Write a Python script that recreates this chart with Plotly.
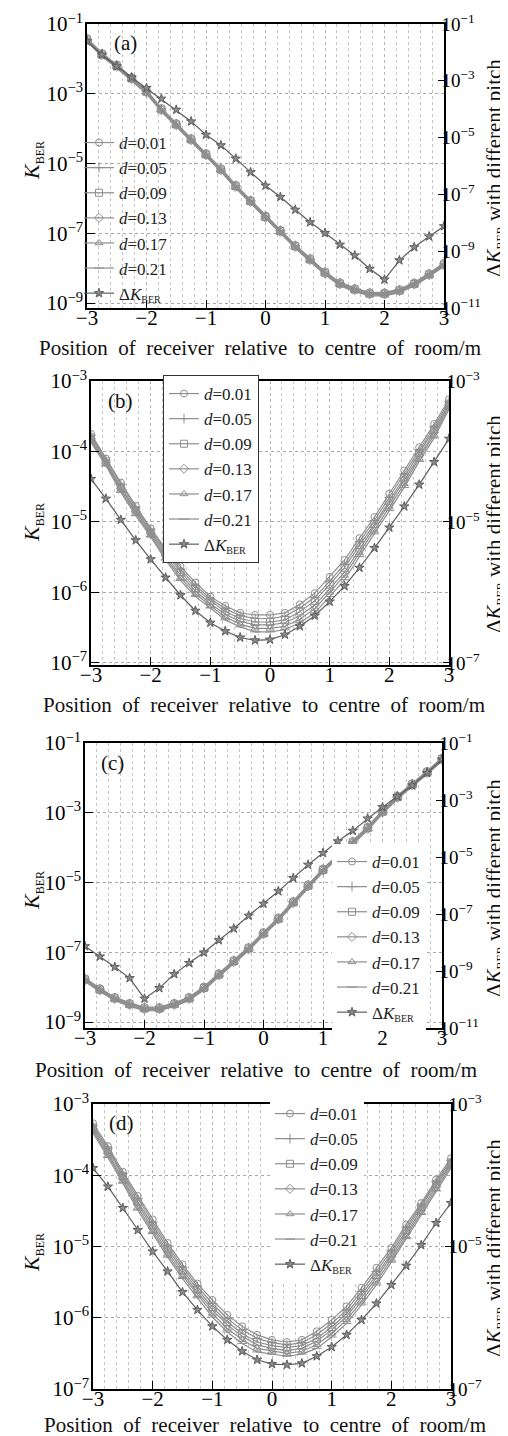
import numpy as np
import plotly.graph_objects as go

W, H = 508, 1436
SERIF = "Liberation Serif, Times New Roman, serif"

# ---------------- data (log10 of K_BER) ----------------
x_pos = [-3, -2.75, -2.5, -2.25, -2, -1.75, -1.5, -1.25, -1, -0.75, -0.5, -0.25, 0,
         0.25, 0.5, 0.75, 1, 1.25, 1.5, 1.75, 2, 2.25, 2.5, 2.75, 3]

d_labels = ["<i>d</i>=0.01", "<i>d</i>=0.05", "<i>d</i>=0.09",
            "<i>d</i>=0.13", "<i>d</i>=0.17", "<i>d</i>=0.21"]
dk_label = "Δ<i>K</i><sub><span style='font-size:10px'>BER</span></sub>"
x_ticks = [-3, -2, -1, 0, 1, 2, 3]
x_tick_text = ["−3", "−2", "−1", "0", "1", "2", "3"]

# panel (a)
a_d001 = [-1.40, -1.83, -2.16, -2.52, -2.90, -3.41, -3.84, -4.27, -4.70, -5.13, -5.61, -6.04, -6.49,
          -6.90, -7.33, -7.71, -8.09, -8.40, -8.57, -8.69, -8.69, -8.60, -8.41, -8.14, -7.85]
a_d005 = [-1.42, -1.85, -2.18, -2.54, -2.92, -3.43, -3.86, -4.29, -4.72, -5.15, -5.63, -6.06, -6.51,
          -6.92, -7.35, -7.73, -8.11, -8.42, -8.59, -8.71, -8.71, -8.62, -8.43, -8.16, -7.87]
a_d009 = [-1.44, -1.87, -2.20, -2.56, -2.94, -3.45, -3.88, -4.31, -4.74, -5.17, -5.65, -6.08, -6.53,
          -6.94, -7.37, -7.75, -8.13, -8.44, -8.61, -8.73, -8.73, -8.64, -8.45, -8.18, -7.89]
a_d013 = [-1.46, -1.89, -2.22, -2.58, -2.96, -3.47, -3.90, -4.33, -4.76, -5.19, -5.67, -6.10, -6.55,
          -6.96, -7.39, -7.77, -8.15, -8.46, -8.63, -8.75, -8.75, -8.66, -8.47, -8.20, -7.91]
a_d017 = [-1.48, -1.91, -2.24, -2.60, -2.98, -3.49, -3.92, -4.35, -4.78, -5.21, -5.69, -6.12, -6.57,
          -6.98, -7.41, -7.79, -8.17, -8.48, -8.65, -8.77, -8.77, -8.68, -8.49, -8.22, -7.93]
a_d021 = [-1.50, -1.93, -2.26, -2.62, -3.00, -3.51, -3.94, -4.37, -4.80, -5.23, -5.71, -6.14, -6.59,
          -7.00, -7.43, -7.81, -8.19, -8.50, -8.67, -8.79, -8.79, -8.70, -8.51, -8.24, -7.95]
a_dk = [-1.61, -2.08, -2.49, -2.88, -3.25, -3.63, -4.02, -4.43, -4.90, -5.27, -5.74, -6.22, -6.69,
        -7.09, -7.54, -7.98, -8.36, -8.77, -9.15, -9.62, -10.00, -9.32, -8.86, -8.48, -8.12]

# panel (b)
b_d001 = [-3.75, -4.10, -4.44, -4.77, -5.09, -5.38, -5.63, -5.86, -6.06, -6.19, -6.29, -6.32, -6.32,
          -6.29, -6.17, -6.01, -5.78, -5.54, -5.23, -4.93, -4.60, -4.27, -3.94, -3.61, -3.26]
b_d005 = [-3.77, -4.12, -4.47, -4.80, -5.11, -5.41, -5.67, -5.90, -6.09, -6.23, -6.33, -6.37, -6.37,
          -6.34, -6.22, -6.07, -5.84, -5.60, -5.28, -4.98, -4.65, -4.32, -3.98, -3.65, -3.29]
b_d009 = [-3.80, -4.14, -4.50, -4.83, -5.14, -5.44, -5.71, -5.94, -6.12, -6.27, -6.37, -6.42, -6.42,
          -6.39, -6.27, -6.12, -5.89, -5.65, -5.33, -5.03, -4.70, -4.37, -4.02, -3.69, -3.32]
b_d013 = [-3.82, -4.16, -4.52, -4.85, -5.16, -5.48, -5.75, -5.98, -6.16, -6.31, -6.41, -6.46, -6.46,
          -6.43, -6.33, -6.18, -5.95, -5.71, -5.39, -5.07, -4.74, -4.41, -4.06, -3.73, -3.34]
b_d017 = [-3.85, -4.18, -4.55, -4.88, -5.19, -5.51, -5.79, -6.02, -6.19, -6.35, -6.45, -6.51, -6.51,
          -6.48, -6.38, -6.23, -6.00, -5.76, -5.44, -5.12, -4.79, -4.46, -4.10, -3.77, -3.37]
b_d021 = [-3.87, -4.20, -4.58, -4.91, -5.21, -5.54, -5.83, -6.06, -6.22, -6.39, -6.49, -6.56, -6.56,
          -6.53, -6.43, -6.29, -6.06, -5.82, -5.49, -5.17, -4.84, -4.51, -4.14, -3.81, -3.40]
b_dk = [-4.39, -4.67, -4.97, -5.26, -5.53, -5.79, -6.04, -6.26, -6.43, -6.55, -6.64, -6.68, -6.67,
        -6.60, -6.48, -6.33, -6.13, -5.91, -5.65, -5.37, -5.08, -4.78, -4.47, -4.15, -3.82]

# panel (c)
c_d001 = [-7.74, -8.03, -8.28, -8.45, -8.57, -8.57, -8.45, -8.28, -7.98, -7.60, -7.22, -6.85, -6.42,
          -6.00, -5.53, -5.05, -4.60, -4.20, -3.81, -3.40, -2.93, -2.51, -2.15, -1.80, -1.42]
c_d005 = [-7.76, -8.05, -8.30, -8.47, -8.59, -8.59, -8.47, -8.30, -8.00, -7.62, -7.24, -6.87, -6.44,
          -6.02, -5.55, -5.07, -4.62, -4.22, -3.83, -3.42, -2.95, -2.53, -2.17, -1.82, -1.44]
c_d009 = [-7.78, -8.07, -8.32, -8.49, -8.61, -8.61, -8.49, -8.32, -8.02, -7.64, -7.26, -6.89, -6.46,
          -6.04, -5.57, -5.09, -4.64, -4.24, -3.85, -3.44, -2.97, -2.55, -2.19, -1.84, -1.46]
c_d013 = [-7.80, -8.09, -8.34, -8.51, -8.63, -8.63, -8.51, -8.34, -8.04, -7.66, -7.28, -6.91, -6.48,
          -6.06, -5.59, -5.11, -4.66, -4.26, -3.87, -3.46, -2.99, -2.57, -2.21, -1.86, -1.48]
c_d017 = [-7.82, -8.11, -8.36, -8.53, -8.65, -8.65, -8.53, -8.36, -8.06, -7.68, -7.30, -6.93, -6.50,
          -6.08, -5.61, -5.13, -4.68, -4.28, -3.89, -3.48, -3.01, -2.59, -2.23, -1.88, -1.50]
c_d021 = [-7.84, -8.13, -8.38, -8.55, -8.67, -8.67, -8.55, -8.38, -8.08, -7.70, -7.32, -6.95, -6.52,
          -6.10, -5.63, -5.15, -4.70, -4.30, -3.91, -3.50, -3.03, -2.61, -2.25, -1.90, -1.52]
c_dk = [-8.13, -8.49, -8.86, -9.25, -9.97, -9.60, -9.11, -8.72, -8.35, -7.92, -7.51, -7.06, -6.64,
        -6.20, -5.74, -5.27, -4.86, -4.45, -4.08, -3.65, -3.25, -2.87, -2.49, -2.05, -1.58]

# panel (d)
d_d001 = [-3.27, -3.59, -3.95, -4.29, -4.62, -4.95, -5.25, -5.52, -5.75, -5.96, -6.12, -6.24, -6.31,
          -6.34, -6.31, -6.19, -6.03, -5.84, -5.58, -5.30, -5.02, -4.69, -4.39, -4.06, -3.76]
d_d005 = [-3.30, -3.62, -3.98, -4.33, -4.66, -4.99, -5.29, -5.56, -5.80, -6.01, -6.17, -6.29, -6.35,
          -6.38, -6.35, -6.24, -6.08, -5.89, -5.63, -5.35, -5.06, -4.73, -4.42, -4.09, -3.79]
d_d009 = [-3.33, -3.65, -4.01, -4.37, -4.70, -5.03, -5.33, -5.60, -5.85, -6.06, -6.22, -6.34, -6.39,
          -6.42, -6.39, -6.29, -6.13, -5.94, -5.68, -5.40, -5.10, -4.77, -4.45, -4.12, -3.82]
d_d013 = [-3.35, -3.69, -4.05, -4.41, -4.74, -5.07, -5.37, -5.64, -5.89, -6.10, -6.26, -6.38, -6.43,
          -6.46, -6.43, -6.33, -6.17, -5.98, -5.72, -5.44, -5.14, -4.81, -4.49, -4.16, -3.84]
d_d017 = [-3.38, -3.72, -4.08, -4.45, -4.78, -5.11, -5.41, -5.68, -5.94, -6.15, -6.31, -6.43, -6.47,
          -6.50, -6.47, -6.38, -6.22, -6.03, -5.77, -5.49, -5.18, -4.85, -4.52, -4.19, -3.87]
d_d021 = [-3.41, -3.75, -4.11, -4.49, -4.82, -5.15, -5.45, -5.72, -5.99, -6.20, -6.36, -6.48, -6.51,
          -6.54, -6.51, -6.43, -6.27, -6.08, -5.82, -5.54, -5.22, -4.89, -4.55, -4.22, -3.90]
d_dk = [-3.90, -4.16, -4.46, -4.77, -5.07, -5.35, -5.64, -5.89, -6.12, -6.31, -6.47, -6.59, -6.65,
        -6.66, -6.64, -6.54, -6.41, -6.24, -6.03, -5.80, -5.54, -5.27, -4.98, -4.67, -4.39]

# left / right decade ticks (exponents)
a_left_exp = [-1, -3, -5, -7, -9]
a_right_exp = [-1, -3, -5, -7, -9, -11]
b_left_exp = [-3, -4, -5, -6, -7]
b_right_exp = [-3, -5, -7]

# ---------------- layout geometry (page pixels) ----------------
panels = [
    dict(tag="(a)", box=(79, 436, 16, 300), yl=(-9.14, -1), yr=(-11, -1),
         lt=a_left_exp, rt=a_right_exp, d=[a_d001, a_d005, a_d009, a_d013, a_d017, a_d021], dk=a_dk,
         tagpos=(117, 35), ltitle=153, rtitle=160, xtitle=(252, 340),
         leg=dict(x=71, y=117, border=0, bg="rgba(0,0,0,0)"), blank=(81, 172, 128, 298)),
    dict(tag="(b)", box=(83, 441, 373, 657), yl=(-7.03, -3), yr=(-7.03, -3),
         lt=b_left_exp, rt=b_right_exp, d=[b_d001, b_d005, b_d009, b_d013, b_d017, b_d021], dk=b_dk,
         tagpos=(112, 393), ltitle=515, rtitle=516, xtitle=(256, 697),
         leg=dict(x=155, y=367, border=1, bg="white"), blank=None),
    dict(tag="(c)", box=(77, 434, 735, 1020), yl=(-9.17, -1), yr=(-11, -1),
         lt=a_left_exp, rt=a_right_exp, d=[c_d001, c_d005, c_d009, c_d013, c_d017, c_d021], dk=c_dk,
         tagpos=(104, 755), ltitle=883, rtitle=880, xtitle=(248, 1062),
         leg=dict(x=324, y=836, border=0, bg="white"), blank=None),
    dict(tag="(d)", box=(85, 443, 1096, 1381), yl=(-7.0, -3), yr=(-7.0, -3),
         lt=b_left_exp, rt=b_right_exp, d=[d_d001, d_d005, d_d009, d_d013, d_d017, d_d021], dk=d_dk,
         tagpos=(113, 1115), ltitle=1245, rtitle=1240, xtitle=(257, 1417),
         leg=dict(x=262, y=1088, border=0, bg="white"), blank=None),
]


def px(xp):
    return xp / W


def py(yp):
    return 1 - yp / H


symbols = ["circle-open", "cross-thin-open", "square-open", "diamond-open",
           "triangle-up-open", "line-ew-open"]
BUNDLE = "#8e8e8e"
DK = "#5e5e5e"

fig = go.Figure()
layout = dict(template="none", width=W, height=H,
              margin=dict(l=0, r=0, t=0, b=0, pad=0, autoexpand=False),
              paper_bgcolor="white", plot_bgcolor="white", showlegend=True,
              font=dict(family=SERIF, color="black"))
annotations = []
shapes = []


def sup(e):
    return "10<sup>" + ("−" + str(-e) if e < 0 else str(e)) + "</sup>"


def note(text, xp, yp, size, angle=0):
    return dict(text=text, x=px(xp), y=py(yp), xref="paper", yref="paper",
                xanchor="center", yanchor="middle", showarrow=False, textangle=angle,
                font=dict(family=SERIF, size=size, color="#111"))


for p, P in enumerate(panels):
    xn = p + 1
    yl_n, yr_n = 2 * p + 1, 2 * p + 2
    xid = "x" if xn == 1 else f"x{xn}"
    ylid = "y" if yl_n == 1 else f"y{yl_n}"
    yrid = f"y{yr_n}"
    xkey = "xaxis" if xn == 1 else f"xaxis{xn}"
    ylkey = "yaxis" if yl_n == 1 else f"yaxis{yl_n}"
    yrkey = f"yaxis{yr_n}"
    legkey = "legend" if p == 0 else f"legend{p + 1}"
    L, R, T, B = P["box"]

    for k in range(6):
        fig.add_trace(go.Scatter(
            x=x_pos, y=np.power(10.0, P["d"][k]), mode="lines+markers", name=d_labels[k],
            line=dict(color=BUNDLE, width=1.2),
            marker=dict(symbol=symbols[k], size=7, color=BUNDLE, line=dict(width=1, color=BUNDLE)),
            xaxis=xid, yaxis=ylid, legend=legkey))
    fig.add_trace(go.Scatter(
        x=x_pos, y=np.power(10.0, P["dk"]), mode="lines+markers", name=dk_label,
        line=dict(color=DK, width=1.2),
        marker=dict(symbol="star", size=7, color="#8a8a8a", line=dict(width=1, color=DK)),
        xaxis=xid, yaxis=yrid, legend=legkey))

    layout[xkey] = dict(
        domain=[px(L), px(R)], anchor=ylid, range=[-3, 3], automargin=False,
        tickmode="array", tickvals=x_ticks, ticktext=x_tick_text,
        ticks="inside", ticklen=8, tickwidth=1.2, tickcolor="black", ticklabelstandoff=-10,
        showline=True, mirror=True, linecolor="black", linewidth=1.5,
        showgrid=True, griddash="dot", gridcolor="#b5b5b5", gridwidth=1,
        minor=dict(dtick=0.2, tick0=-3, showgrid=True, griddash="dot",
                   gridcolor="#c4c4c4", gridwidth=1),
        tickfont=dict(family=SERIF, size=21, color="black"), zeroline=False)
    layout[ylkey] = dict(
        domain=[py(B), py(T)], anchor=xid, type="log", range=list(P["yl"]), automargin=False,
        tickmode="array", tickvals=[10.0 ** e for e in P["lt"]], ticktext=[sup(e) for e in P["lt"]],
        ticks="inside", ticklen=8, tickwidth=1.2, tickcolor="black", ticklabelstandoff=-2,
        showline=True, linecolor="black", linewidth=1.5,
        showgrid=True, griddash="dot", gridcolor="#a8a8a8", gridwidth=1,
        tickfont=dict(family=SERIF, size=21, color="black"), zeroline=False)
    layout[yrkey] = dict(
        overlaying=ylid, side="right", anchor=xid, type="log", range=list(P["yr"]), automargin=False,
        tickmode="array", tickvals=[10.0 ** e for e in P["rt"]], ticktext=[sup(e) for e in P["rt"]],
        ticks="inside", ticklen=6, tickwidth=1.2, tickcolor="black", ticklabelstandoff=-8,
        showline=True, linecolor="black", linewidth=1.5, showgrid=False,
        tickfont=dict(family=SERIF, size=19, color="black"), zeroline=False)

    lg = P["leg"]
    layout[legkey] = dict(
        x=px(lg["x"]), y=py(lg["y"]), xanchor="left", yanchor="top",
        bgcolor=lg["bg"], bordercolor="#333", borderwidth=lg["border"],
        font=dict(family=SERIF, size=17, color="#222"), tracegroupgap=0,
        itemwidth=30)

    if P["blank"] is not None:
        bx0, bx1, by0, by1 = P["blank"]
        shapes.append(dict(type="rect", xref="paper", yref="paper", layer="between",
                           x0=px(bx0), x1=px(bx1), y0=py(by1), y1=py(by0),
                           fillcolor="white", line=dict(width=0)))

    annotations.append(note(P["tag"], P["tagpos"][0], P["tagpos"][1], 21))
    annotations.append(note("<i>K</i><sub><span style='font-size:12px'>BER</span></sub>",
                            25, P["ltitle"], 22, -90))
    annotations.append(note("Δ<i>K</i><sub><span style='font-size:12px'>BER</span></sub> with different pitch",
                            487, P["rtitle"], 21, -90))
    annotations.append(note("Position\u00a0 of\u00a0 receiver\u00a0 relative\u00a0 to\u00a0 centre\u00a0 of\u00a0 room/m",
                            P["xtitle"][0], P["xtitle"][1], 21))

layout["annotations"] = annotations
layout["shapes"] = shapes
fig.update_layout(**layout)
fig.write_html("out.html")
